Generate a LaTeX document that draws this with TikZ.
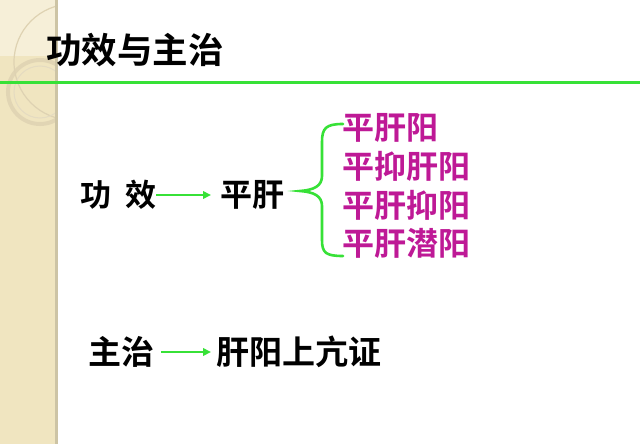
\documentclass[tikz,border=0pt]{standalone}
\usepackage{fontspec}
\newfontfamily\cjk{Noto Sans CJK SC}[BoldFont={Noto Sans CJK SC Bold}]
\usetikzlibrary{arrows.meta}
\definecolor{lgreen}{RGB}{55,225,55}
\definecolor{mag}{RGB}{190,25,150}
\definecolor{stripA}{RGB}{240,229,192}
\definecolor{stripB}{RGB}{246,239,216}
\definecolor{stripEdge}{RGB}{205,196,165}
\definecolor{ringc}{RGB}{222,210,178}
\tikzset{
  txt/.style={inner sep=0pt, anchor=west, font=\cjk\bfseries\fontsize{#1}{#1}\selectfont},
  mtxt/.style={txt=#1, text=mag},
  arr/.style={draw=lgreen, line width=2.6pt, -{Triangle[length=8pt,width=7.5pt]}},
}
\begin{document}
\begin{tikzpicture}[x=1pt,y=-1pt]
\useasboundingbox (0,0) rectangle (640,444);
\fill[white] (0,0) rectangle (640,444);
% left decorative strip
\fill[stripA] (0,0) rectangle (55,444);
\fill[stripB] (0,0) rectangle (55,56);
\begin{scope}
  \clip (0,0) rectangle (56,444);
  \draw[ringc, line width=1.2pt] (72,62) circle (58);
  \draw[ringc, line width=4pt, opacity=0.8] (40,92) circle (32);
  \draw[ringc!80!white, line width=1pt] (40,92) circle (26);
\end{scope}
\fill[stripEdge] (55,0) rectangle (57.5,444);
% title
\node[txt=35.5] (title) at (46,50) {功效与主治};
\draw[lgreen, line width=3pt] (0,83) -- (640,83);
% function row
\node[txt=31] (gx) at (80,195) {功\hspace{14pt}效};
\node[txt=32] (pg) at (220,195) {平肝};
\draw[arr, shorten >=9pt] (gx.east) -- (pg.west);
% brace
\draw[lgreen, line width=2.6pt, line cap=round]
  (343,124) .. controls (326,124) and (322,128) .. (322,142)
  -- (322,176) .. controls (322,186) and (314,190) .. (300,191)
  .. controls (314,192) and (322,196) .. (322,206)
  -- (322,240) .. controls (322,253) and (326,256) .. (343,256);
\node[mtxt=32] (m1) at (342,128) {平肝阳};
\node[mtxt=32] (m2) at (342,166) {平抑肝阳};
\node[mtxt=32] (m3) at (342,205) {平肝抑阳};
\node[mtxt=32] (m4) at (342,243) {平肝潜阳};
% indication row
\node[txt=33] (zz) at (88,352) {主治};
\node[txt=33] (gy) at (216,352) {肝阳上亢证};
\draw[arr, shorten <=7pt, shorten >=5pt] (zz.east) -- (gy.west);
\end{tikzpicture}
\end{document}
